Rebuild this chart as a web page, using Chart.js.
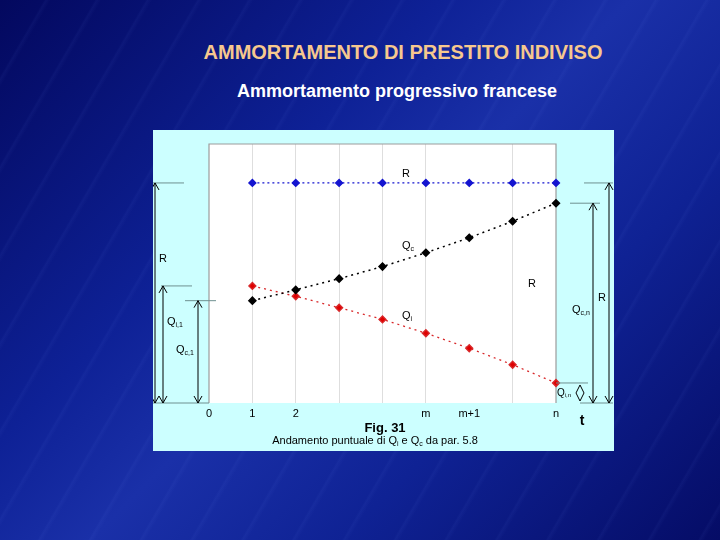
<!DOCTYPE html>
<html>
<head>
<meta charset="utf-8">
<script src="https://cdn.jsdelivr.net/npm/chart.js@4"></script>
<style>
  html, body { margin: 0; padding: 0; }
  body {
    width: 720px; height: 540px; overflow: hidden; position: relative;
    font-family: "Liberation Sans", Arial, sans-serif;
    background: linear-gradient(135deg, #03085e 0%, #0e2196 35%, #1a30a8 50%, #0f2294 70%, #050c66 100%);
  }
  .streaks {
    position: absolute; left: 0; top: 0; width: 720px; height: 540px;
    background: repeating-linear-gradient(120deg, rgba(255,255,255,0) 0px, rgba(255,255,255,0) 38px, rgba(120,150,255,0.05) 40px, rgba(255,255,255,0) 44px);
  }
  #title {
    position: absolute; left: 0; width: 806px; top: 41px; text-align: center;
    color: #f6c88e; font-weight: bold; font-size: 20px;
  }
  #subtitle {
    position: absolute; left: 0; width: 794px; top: 81px; text-align: center;
    color: #ffffff; font-weight: bold; font-size: 18px;
  }
  #box {
    position: absolute; left: 153px; top: 130px; width: 461px; height: 321px;
    background: #ccffff;
  }
</style>
</head>
<body>
<div class="streaks"></div>
<div id="title">AMMORTAMENTO DI PRESTITO INDIVISO</div>
<div id="subtitle">Ammortamento progressivo francese</div>
<div id="box"><canvas id="chart" width="461" height="321"></canvas></div>
<script>
// periods 1..n on the x axis, tick names at 0..n
const periods = [1, 2, 3, 4, 5, 6, 7, 8];
const tickLabels = ['0', '1', '2', '', '', 'm', 'm+1', '', 'n'];
// rata costante R, quota capitale Qc, quota interessi Qi
const rata = [100, 100, 100, 100, 100, 100, 100, 100];
const quotaCapitale = [46.5, 51.4, 56.5, 62.0, 68.3, 75.1, 82.6, 90.8];
const quotaInteressi = [53.2, 48.5, 43.3, 38.0, 31.7, 24.9, 17.4, 9.1];

const toPoints = arr => arr.map((v, i) => ({ x: periods[i], y: v }));

function sub(ctx, base, s, x, y, size) {
    ctx.font = size + 'px "Liberation Sans", Arial';
    ctx.textBaseline = 'middle';
    ctx.textAlign = 'left';
    ctx.fillText(base, x, y);
    const w = ctx.measureText(base).width;
    ctx.font = Math.round(size * 0.62) + 'px "Liberation Sans", Arial';
    ctx.fillText(s, x + w, y + size * 0.25);
}

function arrowHead(ctx, x, y, dir) {
    ctx.beginPath();
    ctx.moveTo(x - 4, y - 7 * dir);
    ctx.lineTo(x, y);
    ctx.lineTo(x + 4, y - 7 * dir);
    ctx.stroke();
}

function vArrow(ctx, x, y1, y2) {
    ctx.beginPath();
    ctx.moveTo(x, y1);
    ctx.lineTo(x, y2);
    ctx.stroke();
    arrowHead(ctx, x, y1, -1);
    arrowHead(ctx, x, y2, 1);
}

function hLine(ctx, x1, x2, y) {
    ctx.beginPath();
    ctx.moveTo(x1, y);
    ctx.lineTo(x2, y);
    ctx.stroke();
}

const annotations = {
    id: 'annotations',
    beforeDraw(chart) {
        const { ctx, chartArea: a } = chart;
        ctx.save();
        ctx.fillStyle = '#ffffff';
        ctx.fillRect(a.left, a.top, a.right - a.left, a.bottom - a.top);
        ctx.restore();
    },
    beforeDatasetsDraw(chart) {
        const { ctx, chartArea: a } = chart;
        ctx.save();
        ctx.strokeStyle = '#9c9c9c';
        ctx.lineWidth = 1.2;
        ctx.beginPath();
        ctx.moveTo(a.left, a.bottom);
        ctx.lineTo(a.left, a.top);
        ctx.lineTo(a.right, a.top);
        ctx.lineTo(a.right, a.bottom);
        ctx.stroke();
        ctx.restore();
    },
    afterDraw(chart) {
        const { ctx, chartArea: a, scales } = chart;
        const y = scales.y;
        const x = scales.x;
        const y0 = y.getPixelForValue(0);
        const yR = y.getPixelForValue(rata[0]);
        const yQc1 = y.getPixelForValue(quotaCapitale[0]);
        const yQi1 = y.getPixelForValue(quotaInteressi[0]);
        const n = periods.length - 1;
        const yQcn = y.getPixelForValue(quotaCapitale[n]);
        const yQin = y.getPixelForValue(quotaInteressi[n]);
        const xn = x.getPixelForValue(periods[n]);

        ctx.save();
        // reference lines
        ctx.strokeStyle = '#6f9090';
        ctx.lineWidth = 1;
        hLine(ctx, 0, a.left - 25, yR);
        hLine(ctx, a.left - 48, a.left - 17, yQi1);
        hLine(ctx, a.left - 24, a.left + 7, yQc1);
        hLine(ctx, 0, a.left, y0);
        hLine(ctx, a.right + 28, a.right + 57, yR);
        hLine(ctx, a.right + 14, a.right + 44, yQcn);
        hLine(ctx, xn, xn + 32, yQin);
        hLine(ctx, a.right + 24, a.right + 57, y0);

        // arrows
        ctx.strokeStyle = '#000000';
        ctx.lineWidth = 1;
        vArrow(ctx, a.left - 54, yR, y0);
        vArrow(ctx, a.left - 46, yQi1, y0);
        vArrow(ctx, a.left - 11, yQc1, y0);
        vArrow(ctx, a.right + 53, yR, y0);
        vArrow(ctx, a.right + 37, yQcn, y0);
        // small double arrow for Qi,n
        const xs = a.right + 24;
        ctx.beginPath();
        ctx.moveTo(xs, yQin + 2);
        ctx.lineTo(xs - 4, yQin + 10);
        ctx.lineTo(xs, y0 - 2);
        ctx.lineTo(xs + 4, yQin + 10);
        ctx.closePath();
        ctx.stroke();

        // labels
        ctx.fillStyle = '#000000';
        ctx.font = '11px "Liberation Sans", Arial';
        ctx.textBaseline = 'middle';
        ctx.textAlign = 'left';
        ctx.fillText('R', a.left - 50, 129);
        sub(ctx, 'Q', 'i,1', a.left - 42, 192, 11);
        sub(ctx, 'Q', 'c,1', a.left - 33, 220, 11);
        ctx.font = '11px "Liberation Sans", Arial';
        ctx.fillText('R', a.left + 193, yR - 9);
        sub(ctx, 'Q', 'c', a.left + 193, 116, 11);
        ctx.font = '11px "Liberation Sans", Arial';
        ctx.fillText('R', a.left + 319, 154);
        sub(ctx, 'Q', 'i', a.left + 193, 186, 11);
        ctx.font = '11px "Liberation Sans", Arial';
        ctx.fillText('R', a.right + 42, 168);
        sub(ctx, 'Q', 'c,n', a.right + 16, 180, 11);
        sub(ctx, 'Q', 'i,n', a.right + 1, yQin + 10, 10);

        ctx.font = 'bold 14px "Liberation Sans", Arial';
        ctx.textAlign = 'center';
        ctx.fillText('t', a.right + 26, 291);

        ctx.font = 'bold 13px "Liberation Sans", Arial';
        ctx.fillText('Fig. 31', 232, 298);

        // caption with subscripts
        const parts = [['Andamento puntuale di Q', 0], ['i', 1], [' e Q', 0], ['c', 1], [' da par. 5.8', 0]];
        let total = 0;
        parts.forEach(p => {
            ctx.font = (p[1] ? '7px' : '11px') + ' "Liberation Sans", Arial';
            total += ctx.measureText(p[0]).width;
        });
        let cx = 222 - total / 2;
        ctx.textAlign = 'left';
        parts.forEach(p => {
            ctx.font = (p[1] ? '7px' : '11px') + ' "Liberation Sans", Arial';
            ctx.fillText(p[0], cx, 311 + (p[1] ? 3 : 0));
            cx += ctx.measureText(p[0]).width;
        });
        ctx.restore();
    }
};

const ctx = document.getElementById('chart').getContext('2d');
new Chart(ctx, {
    type: 'line',
    data: {
        datasets: [
            {
                label: 'R',
                data: toPoints(rata),
                borderColor: '#1414d0',
                backgroundColor: '#1414d0',
                borderWidth: 1.3,
                borderDash: [2, 3],
                pointStyle: 'rectRot',
                pointRadius: 3.5,
                pointHoverRadius: 3.5,
                clip: false
            },
            {
                label: 'Qc',
                data: toPoints(quotaCapitale),
                borderColor: '#000000',
                backgroundColor: '#000000',
                borderWidth: 1.5,
                borderDash: [2, 4],
                pointStyle: 'rectRot',
                pointRadius: 3.5,
                pointHoverRadius: 3.5,
                clip: false
            },
            {
                label: 'Qi',
                data: toPoints(quotaInteressi),
                borderColor: '#d8282a',
                backgroundColor: '#e00000',
                borderWidth: 1.3,
                borderDash: [2, 4],
                pointStyle: 'rectRot',
                pointRadius: 3.5,
                pointHoverRadius: 3.5,
                clip: false
            }
        ]
    },
    options: {
        responsive: false,
        animation: false,
        layout: { padding: { left: 56, top: 14, right: 58, bottom: 0 } },
        plugins: { legend: { display: false }, tooltip: { enabled: false } },
        scales: {
            x: {
                type: 'linear',
                min: 0,
                max: 8,
                border: { display: false },
                grid: {
                    drawTicks: false,
                    color: c => (c.tick.value === 0 || c.tick.value === 6 || c.tick.value === 8) ? 'rgba(0,0,0,0)' : '#dedede'
                },
                ticks: {
                    stepSize: 1,
                    padding: 4,
                    color: '#000000',
                    font: { family: '"Liberation Sans", Arial', size: 11 },
                    maxRotation: 0,
                    callback: v => tickLabels[v]
                },
                afterFit: s => { s.height = 48; }
            },
            y: {
                display: false,
                min: 0,
                max: 117.7
            }
        }
    },
    plugins: [annotations]
});
</script>
</body>
</html>
